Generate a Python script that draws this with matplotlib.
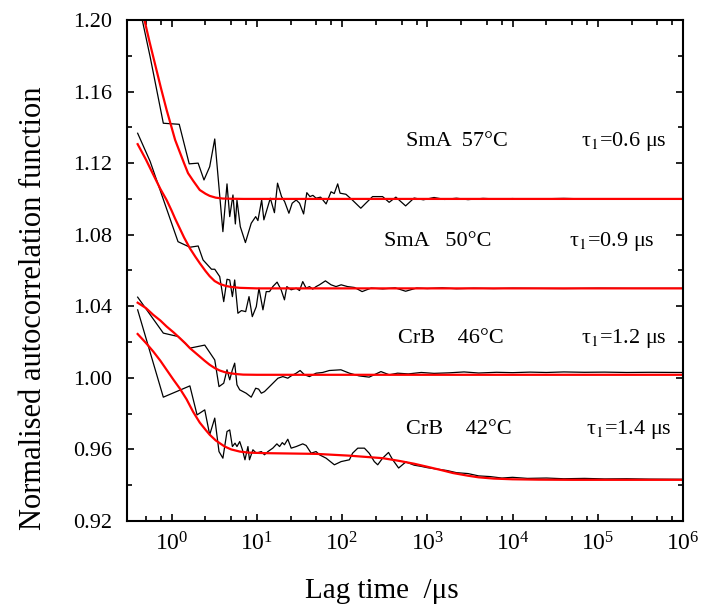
import matplotlib
matplotlib.use("Agg")
import matplotlib.pyplot as plt
from matplotlib.ticker import (FixedLocator, LogLocator, LogFormatterSciNotation, MultipleLocator,
                               FormatStrFormatter, NullFormatter)

plt.rcParams['font.family'] = ['Liberation Serif', 'DejaVu Serif']
plt.rcParams['mathtext.fontset'] = 'stix'

# measured correlation data, lag time in microseconds
x1 = [0.4, 0.56, 0.80, 1.23, 1.61, 2.05, 2.4, 2.8, 3.21, 4.0, 4.47, 4.81, 5.25, 5.6, 5.85, 6.4, 7.35, 8.6, 9.7, 10.3,
      11.4, 12.1, 14.4, 16.1, 17.5, 19.5, 21.2, 23.8, 26, 29, 31.7, 35.4, 38.6, 42, 45.5, 49.6, 56, 65, 74.3, 81,
      88.9, 94.8, 111, 132, 166, 190, 228, 299, 357, 428, 557, 700, 900, 1200, 1600, 2200, 3000, 4500, 7000, 1e4,
      1.6e4, 2.5e4, 4e4, 7e4, 1.2e5, 2e5, 4e5, 1e6]
y1 = [1.212, 1.1795, 1.1423, 1.1417, 1.1196, 1.1200, 1.1106, 1.1180, 1.1335, 1.0817, 1.1084, 1.0901, 1.1022, 1.0860,
      1.0994, 1.0845, 1.0756, 1.0864, 1.0901, 1.0879, 1.0994, 1.0883, 1.1004, 1.0923, 1.1088, 1.1013, 1.0985, 1.0920,
      1.0976, 1.0994, 1.0976, 1.0916, 1.1035, 1.1013, 1.1020, 1.1004, 1.1010, 1.0972, 1.1040, 1.1030, 1.1084, 1.1032,
      1.1026, 1.0994, 1.0948, 1.0976, 1.1013, 1.1013, 1.0981, 1.1010, 1.0961, 1.1005, 1.0995, 1.1008, 1.0997, 1.1004,
      1.0996, 1.1003, 1.0999, 1.1002, 1.0998, 1.1001, 1.1003, 1.1000, 1.0999, 1.1001, 1.1000, 1.1000]

x2 = [0.4, 0.56, 1.19, 1.64, 2.05, 2.34, 2.94, 3.21, 3.67, 4.09, 4.47, 4.81, 5.17, 5.5, 6.0, 6.6, 7.4, 8.1, 8.85, 9.86,
      10.6, 11.8, 12.9, 14.1, 15.4, 17.3, 19.3, 21.1, 22.5, 25.3, 29, 31.7, 34.6, 37.9, 41.5, 45.3, 49.6, 54.3, 63.8,
      74.3, 85, 97.6, 116, 140, 172, 220, 300, 420, 557, 750, 1000, 1500, 2200, 3500, 6000, 1e4, 2e4, 4e4, 1e5,
      2.5e5, 1e6]
y2 = [1.1367, 1.1210, 1.0761, 1.0730, 1.0737, 1.0659, 1.0607, 1.0607, 1.0566, 1.0426, 1.0551, 1.0547, 1.0454, 1.0547,
      1.0361, 1.0376, 1.0370, 1.0454, 1.0342, 1.0398, 1.0501, 1.0380, 1.0482, 1.0482, 1.0510, 1.0535, 1.0492, 1.0436,
      1.0510, 1.0492, 1.0501, 1.0488, 1.0538, 1.0501, 1.0510, 1.0496, 1.0510, 1.0520, 1.0542, 1.0520, 1.0510, 1.0520,
      1.0510, 1.0505, 1.0482, 1.0502, 1.0497, 1.0503, 1.0484, 1.0502, 1.0499, 1.0503, 1.0498, 1.0501, 1.0499, 1.0501,
      1.0500, 1.0499, 1.0501, 1.0500, 1.0500]

x3 = [0.4, 0.80, 1.19, 1.64, 2.45, 3.21, 3.6, 4.09, 4.47, 4.81, 5.17, 5.5, 5.85, 6.3, 7.5, 8.6, 9.7, 10.5, 11.3, 12.3,
      14.1, 17.7, 20.2, 23.1, 25.3, 29, 32.2, 36.3, 41.5, 49.6, 59.2, 71, 97, 122, 158, 208, 286, 358, 448, 600, 850,
      1200, 1800, 2700, 4000, 6500, 1e4, 1.6e4, 2.5e4, 4e4, 7e4, 1.2e5, 2.2e5, 4e5, 1e6]
y3 = [1.0451, 1.0250, 1.0231, 1.0166, 1.0183, 1.0100, 0.9951, 0.9970, 1.0045, 0.9989, 1.0045, 1.0082, 0.9961, 0.9933,
      0.9914, 0.9892, 0.9942, 0.9937, 0.9914, 0.9923, 0.9951, 0.9998, 1.0007, 0.9998, 1.0011, 1.0026, 1.0041, 1.0017,
      1.0007, 1.0026, 1.0030, 1.0041, 1.0045, 1.0026, 1.0011, 1.0004, 1.0035, 1.0017, 1.0026, 1.0022, 1.0030, 1.0025,
      1.0028, 1.0033, 1.0027, 1.0031, 1.0029, 1.0032, 1.0030, 1.0033, 1.0031, 1.0032, 1.0030, 1.0031, 1.0030]

x4 = [0.4, 0.80, 1.64, 1.99, 2.45, 2.8, 3.21, 3.6, 4.0, 4.47, 4.81, 5.17, 5.55, 5.85, 6.3, 6.78, 7.26, 7.87, 8.2, 9.0,
      9.86, 11.3, 12.3, 13.5, 15.4, 17.2, 18.5, 19.9, 21.1, 23.1, 25.3, 29, 34.6, 37.9, 43.4, 49.6, 54.3, 65, 81.3,
      97.6, 122, 133, 153, 183, 208, 239, 262, 299, 351, 393, 461, 560, 700, 850, 1000, 1300, 1700, 2200, 3000, 4000,
      5500, 7500, 1e4, 1.5e4, 2.5e4, 4e4, 7e4, 1.2e5, 2.2e5, 4e5, 1e6]
y4 = [1.0380, 0.9892, 0.9955, 0.9793, 0.9821, 0.9682, 0.9775, 0.9588, 0.9551, 0.9700, 0.9709, 0.9616, 0.9635, 0.9616,
      0.9644, 0.9598, 0.9542, 0.9616, 0.9542, 0.9598, 0.9579, 0.9588, 0.9570, 0.9588, 0.9607, 0.9631, 0.9616, 0.9638,
      0.9626, 0.9657, 0.9607, 0.9616, 0.9631, 0.9622, 0.9579, 0.9588, 0.9570, 0.9551, 0.9514, 0.9532, 0.9542, 0.9579,
      0.9607, 0.9607, 0.9579, 0.9532, 0.9514, 0.9551, 0.9583, 0.9542, 0.9496, 0.9530, 0.9512, 0.9505, 0.9498, 0.9490,
      0.9482, 0.9470, 0.9465, 0.9452, 0.9448, 0.9440, 0.9444, 0.9438, 0.9440, 0.9436, 0.9438, 0.9435, 0.9436, 0.9434,
      0.9433]

# fitted curves
fx1 = [0.4, 0.47, 0.55, 0.65, 0.75, 0.875, 1.0, 1.1, 1.22, 1.4, 1.56, 1.8, 2.14, 2.5, 2.8, 3.3, 4.0, 5.0, 7.0, 1e6]
fy1 = [1.214, 1.202, 1.188, 1.174, 1.162, 1.1497, 1.140, 1.133, 1.1274, 1.120, 1.1144, 1.110, 1.105, 1.1029, 1.1017,
       1.1007, 1.1002, 1.1001, 1.1000, 1.1000]

fx2 = [0.4, 0.5, 0.61, 0.74, 0.874, 1.0, 1.1, 1.22, 1.4, 1.64, 1.9, 2.14, 2.5, 2.8, 3.2, 3.67, 4.3, 5.0, 6.3, 10, 1e6]
fy2 = [1.1306, 1.1220, 1.1136, 1.1055, 1.0994, 1.0935, 1.0890, 1.0845, 1.0785, 1.0724, 1.0677, 1.0641, 1.0597, 1.0568,
       1.0541, 1.0525, 1.0514, 1.0508, 1.0503, 1.0500, 1.0500]

fx3 = [0.4, 0.5, 0.61, 0.74, 0.874, 1.05, 1.25, 1.45, 1.64, 1.9, 2.14, 2.45, 2.8, 3.2, 3.67, 4.2, 4.8, 5.8, 6.9, 10, 1e6]
fy3 = [1.0420, 1.0390, 1.0352, 1.0320, 1.0287, 1.0255, 1.0222, 1.0193, 1.0166, 1.0140, 1.0119, 1.0095, 1.0073, 1.0055,
       1.0041, 1.0032, 1.0026, 1.0021, 1.0018, 1.0017, 1.0017]

fx4 = [0.4, 0.5, 0.61, 0.74, 0.874, 1.05, 1.25, 1.5, 1.79, 2.14, 2.5, 2.8, 3.3, 4.2, 5.0, 6.3, 8.0, 12.9, 50, 122, 300,
       466, 700, 1000, 1500, 2000, 3000, 4000, 6000, 1e4, 2e4, 5e4, 1e6]
fy4 = [1.0245, 1.0195, 1.0147, 1.0095, 1.0045, 0.9990, 0.9940, 0.9880, 0.9810, 0.9750, 0.9710, 0.9682, 0.9650, 0.9616,
       0.9600, 0.9588, 0.9582, 0.9579, 0.9575, 0.9565, 0.9551, 0.9536, 0.9520, 0.9503, 0.9483, 0.9468, 0.9453, 0.9444,
       0.9437, 0.9433, 0.9431, 0.9430, 0.9430]

phases = ["SmA  57°C", "SmA   50°C", "CrB    46°C", "CrB    42°C"]
taus = ["0.6", "0.9", "1.2", "1.4"]
xticks = [1e0, 1e1, 1e2, 1e3, 1e4, 1e5, 1e6]

fig = plt.figure(figsize=(7.2, 6.06), dpi=100)
ax = fig.add_axes([0.1764, 0.1403, 0.7722, 0.8267])

for x, y in [(x1, y1), (x2, y2), (x3, y3), (x4, y4)]:
    ax.plot(x, y, color='black', lw=0.9)
for x, y in [(fx1, fy1), (fx2, fy2), (fx3, fy3), (fx4, fy4)]:
    ax.plot(x, y, color='red', lw=1.6)

ax.set_xscale('log')
ax.set_xlim(0.3, 1e6)
ax.set_ylim(0.92, 1.20)

ax.xaxis.set_major_locator(FixedLocator(xticks))
ax.xaxis.set_minor_locator(LogLocator(base=10, subs=[2.5, 5.0, 7.5], numticks=12))
ax.xaxis.set_major_formatter(LogFormatterSciNotation())
ax.xaxis.set_minor_formatter(NullFormatter())
ax.yaxis.set_major_locator(MultipleLocator(0.04))
ax.yaxis.set_minor_locator(MultipleLocator(0.02))
ax.yaxis.set_major_formatter(FormatStrFormatter('%.2f'))

ax.tick_params(which='both', direction='in', top=True, right=True, width=1.2)
ax.tick_params(which='major', length=5)
ax.tick_params(which='minor', length=3.5)
ax.tick_params(axis='y', which='major', labelsize=16, pad=11)
ax.tick_params(axis='x', which='major', labelsize=17, pad=8)
for s in ax.spines.values():
    s.set_linewidth(1.5)

ax.set_ylabel('Normalised autocorrelation function', fontsize=22, va='center')
ax.yaxis.set_label_coords(-0.168, 0.425)
ax.set_xlabel('Lag time  /μs', fontsize=21, va='baseline')
ax.xaxis.set_label_coords(0.459, -0.153)

# annotation rows (axes fraction)
rows_y = [0.757, 0.557, 0.365, 0.182]
phase_x = [0.593, 0.559, 0.583, 0.597]
tau_x = [0.893, 0.872, 0.893, 0.902]
for i in range(4):
    ax.text(phase_x[i], rows_y[i], phases[i], transform=ax.transAxes, fontsize=16, ha='center', va='center')
    ax.text(tau_x[i], rows_y[i], 'τ$_{1}$=' + taus[i] + ' μs', transform=ax.transAxes, fontsize=16,
            ha='center', va='center')

fig.savefig('out.png', dpi=100)
